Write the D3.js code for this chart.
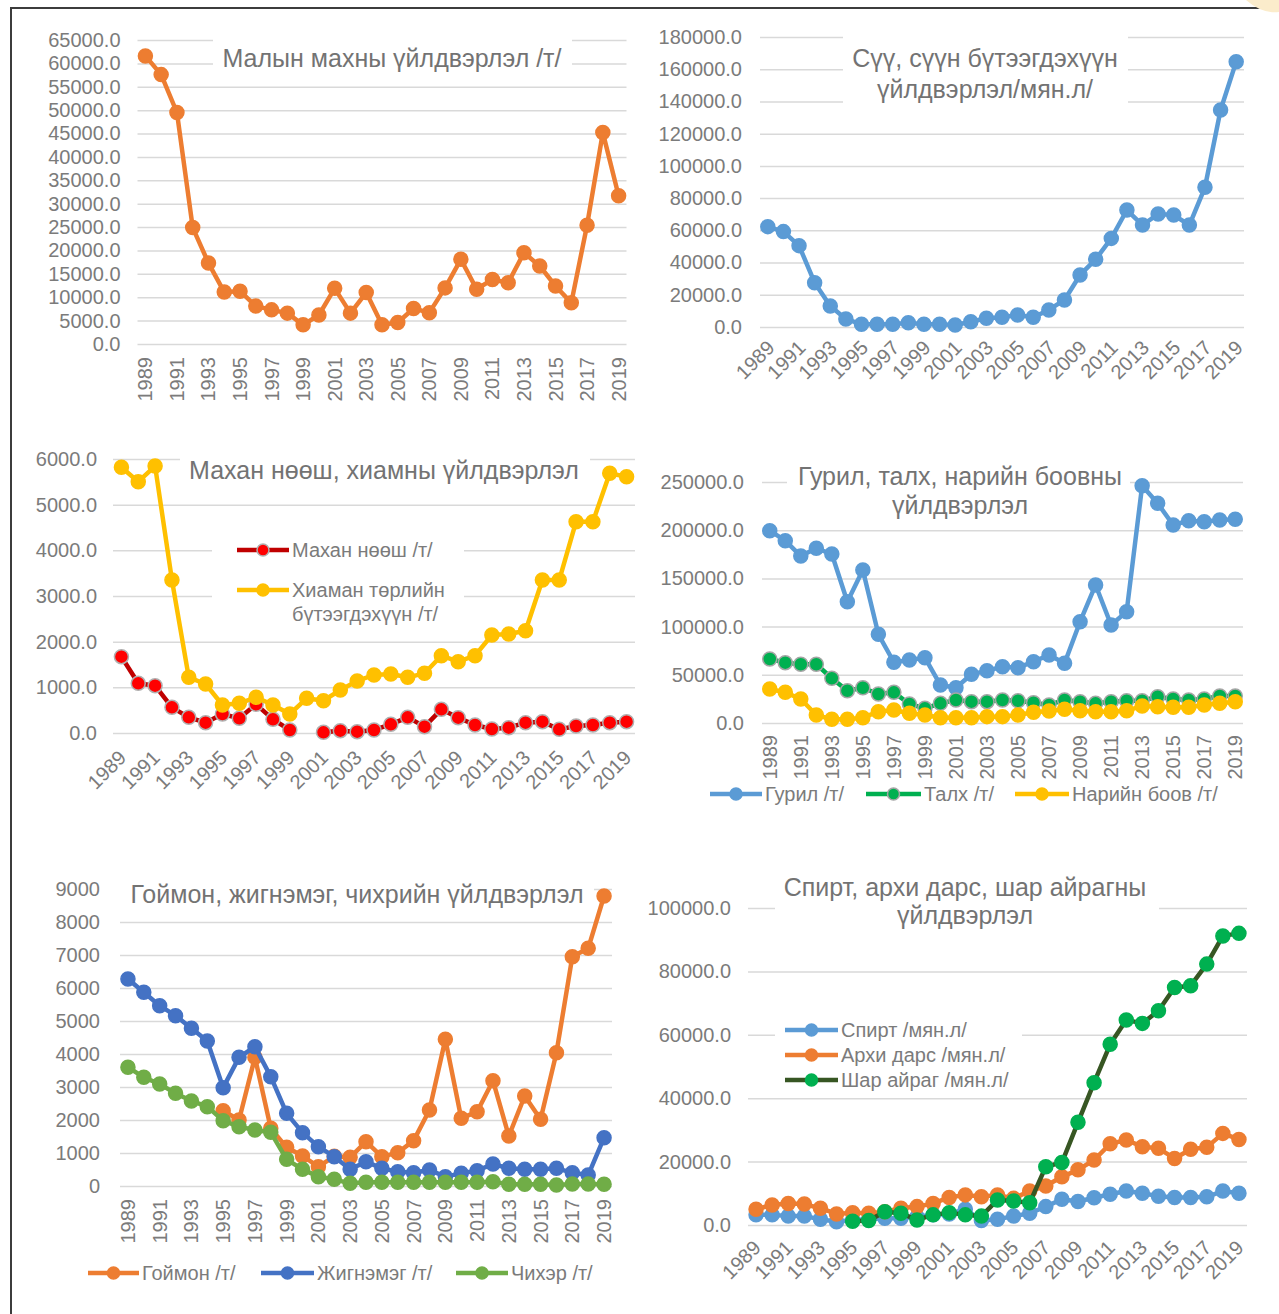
<!DOCTYPE html>
<html>
<head>
<meta charset="utf-8">
<script src="https://cdn.jsdelivr.net/npm/d3@7"></script>
<style>
body { margin: 0; background: #fff; }
</style>
</head>
<body>
<div id="chart"></div>
<script>
// Categories
const years = [1989, 1990, 1991, 1992, 1993, 1994, 1995, 1996, 1997, 1998, 1999, 2000, 2001, 2002, 2003, 2004,
    2005, 2006, 2007, 2008, 2009, 2010, 2011, 2012, 2013, 2014, 2015, 2016, 2017, 2018, 2019];
const labelYears = [1989, 1991, 1993, 1995, 1997, 1999, 2001, 2003, 2005, 2007, 2009, 2011, 2013, 2015, 2017, 2019];

// Малын мах
const meat = [61600, 57600, 49500, 24900, 17300, 11100, 11300, 8100, 7300, 6600, 4100, 6200, 11900, 6600, 11000, 4100,
    4600, 7600, 6700, 12000, 18100, 11700, 13800, 13100, 19500, 16700, 12400, 8800, 25400, 45200, 31700];
const meatTicks = [0, 5000, 10000, 15000, 20000, 25000, 30000, 35000, 40000, 45000, 50000, 55000, 60000, 65000];

// Сүү
const milk = [62300, 59200, 50500, 27500, 13000, 5000, 1700, 1700, 1700, 2700, 1700, 1700, 1200, 3300, 5400, 6000,
    7400, 6000, 10600, 16800, 32300, 42000, 55000, 72600, 63300, 70100, 69500, 63300, 86700, 134700, 164700];
const milkTicks = [0, 20000, 40000, 60000, 80000, 100000, 120000, 140000, 160000, 180000];

// Махан нөөш, хиам
const cannedMeat = [1671, 1088, 1036, 562, 343, 226, 416, 321, 628, 299, 66, null, 15, 51, 29, 66,
    190, 343, 139, 518, 336, 175, 88, 117, 226, 248, 80, 153, 175, 226, 248];
const sausage = [5818, 5503, 5846, 3350, 1219, 1073, 613, 650, 782, 613, 416, 760, 708, 942, 1139, 1270,
    1292, 1219, 1307, 1693, 1561, 1693, 2146, 2168, 2240, 3350, 3350, 4627, 4627, 5686, 5613];
const sausageTicks = [0, 1000, 2000, 3000, 4000, 5000, 6000];

// Гурил, талх, нарийн боов
const flour = [199500, 189100, 173200, 181200, 175300, 125800, 158700, 92000, 63000, 65400, 67700, 39400, 36600, 50500, 54300, 58400,
    57400, 63600, 70500, 61900, 105100, 143200, 101700, 115500, 246200, 227900, 205400, 209900, 208800, 210600, 211300];
const bread = [66400, 62600, 60900, 60900, 46400, 33500, 36600, 30100, 31800, 19700, 15200, 20400, 23900, 22100, 22100, 23900,
    23100, 21100, 18700, 23900, 22100, 20400, 22100, 23100, 23100, 27300, 24900, 23900, 24900, 28000, 28000];
const pastry = [35300, 31800, 24900, 8300, 3800, 3800, 5500, 11700, 13500, 10100, 8300, 5500, 5500, 5500, 6600, 6600,
    8300, 11100, 12400, 14200, 12800, 11700, 11700, 12800, 17600, 16900, 16300, 16300, 18700, 20400, 22100];
const flourTicks = [0, 50000, 100000, 150000, 200000, 250000];

// Гоймон, жигнэмэг, чихэр
const noodle = [null, null, null, null, null, null, 2282, 2000, 3900, 1747, 1172, 909, 586, 900, 869, 1343,
    889, 1010, 1374, 2303, 4444, 2051, 2253, 3192, 1515, 2727, 2020, 4040, 6949, 7202, 8788];
const biscuit = [6273, 5869, 5465, 5162, 4778, 4394, 2980, 3899, 4222, 3313, 2202, 1616, 1192, 889, 505, 737,
    535, 434, 404, 485, 283, 384, 465, 667, 535, 505, 505, 535, 404, 333, 1465];
const candy = [3600, 3293, 3091, 2808, 2576, 2404, 1980, 1798, 1697, 1626, 808, 505, 283, 202, 81, 111,
    111, 111, 111, 111, 111, 111, 111, 131, 51, 51, 51, 30, 60, 60, 51];
const noodleTicks = [0, 1000, 2000, 3000, 4000, 5000, 6000, 7000, 8000, 9000];

// Спирт, архи, шар айраг
const spirit = [3200, 3200, 2800, 2800, 1800, 1000, 1600, 1800, 2100, 2100, 2600, 3200, 3500, 5000, 1400, 1800,
    2800, 3700, 5800, 8100, 7400, 8600, 9700, 10700, 10000, 9100, 8700, 8700, 8900, 10700, 10000];
const liquor = [5000, 6300, 6800, 6600, 5300, 3500, 3900, 3700, 4200, 5300, 5800, 6800, 8700, 9500, 8900, 9500,
    8400, 10700, 12300, 15200, 17400, 20500, 25600, 26800, 24700, 24200, 21000, 23900, 24500, 28900, 27000];
const beer = [null, null, null, null, null, null, 1200, 1400, 4200, 3700, 1600, 3200, 3900, 3200, 2800, 7900,
    7600, 7000, 18400, 19700, 32400, 44900, 57000, 64700, 63600, 67600, 74900, 75500, 82300, 91200, 92000];
const spiritTicks = [0, 20000, 40000, 60000, 80000, 100000];

const FONT = "'Liberation Sans', Arial, sans-serif";
const GREY = "#7b7b7b";

const svg = d3.select("#chart").append("svg")
    .attr("width", 1279)
    .attr("height", 1314);

// page frame
svg.append("path")
    .attr("d", "M11,1314V8H1279")
    .attr("fill", "none")
    .attr("stroke", "#3c3c3c")
    .attr("stroke-width", 2);
svg.append("path")
    .attr("d", "M1246,0 Q1262,14 1279,12 V0 Z")
    .attr("fill", "#fbeccb");

function drawChart(o) {
    const g = svg.append("g");
    const x = d3.scaleBand().domain(years).range([o.left, o.right]);
    const cx = d => x(d) + x.bandwidth() / 2;
    const y = d3.scaleLinear().domain([0, o.max]).range([o.bottom, o.top]);

    // gridlines and value labels
    const yAxis = g.append("g")
        .attr("transform", `translate(${o.left},0)`)
        .call(d3.axisLeft(y).tickValues(o.ticks).tickSize(-(o.right - o.left)).tickPadding(o.pad).tickFormat(o.fmt));
    yAxis.select(".domain").remove();
    yAxis.selectAll("line").attr("stroke", "#d9d9d9").attr("stroke-width", 1.5);
    yAxis.selectAll("text")
        .attr("fill", GREY)
        .attr("font-size", 20)
        .attr("font-family", FONT);

    // year labels (offsets are relative to the axis line)
    const xAxis = g.append("g")
        .attr("transform", `translate(0,${o.bottom})`)
        .call(d3.axisBottom(x).tickValues(labelYears).tickSize(0).tickPadding(0));
    xAxis.select(".domain").remove();
    xAxis.selectAll("text")
        .attr("fill", GREY)
        .attr("font-size", 20)
        .attr("font-family", FONT)
        .attr("text-anchor", "end")
        .attr("y", 0)
        .attr("dy", "0.35em")
        .attr("transform", o.rot === -90
            ? `translate(0,${o.labOff}) rotate(-90)`
            : `translate(${o.labDx},${o.labOff}) rotate(-45)`);

    // title with its white box
    g.append("rect")
        .attr("x", o.title.box[0]).attr("y", o.title.box[1])
        .attr("width", o.title.box[2] - o.title.box[0]).attr("height", o.title.box[3] - o.title.box[1])
        .attr("fill", "#fff");
    o.title.lines.forEach((t, i) => {
        g.append("text")
            .attr("x", o.title.x).attr("y", o.title.y[i])
            .attr("dy", "0.35em")
            .attr("text-anchor", "middle")
            .attr("font-size", 25)
            .attr("font-family", FONT)
            .attr("fill", "#737373")
            .text(t);
    });

    // legend
    if (o.legend) {
        if (o.legend.box) {
            const b = o.legend.box;
            g.append("rect").attr("x", b[0]).attr("y", b[1]).attr("width", b[2] - b[0]).attr("height", b[3] - b[1]).attr("fill", "#fff");
        }
        o.legend.items.forEach((it, i) => {
            const s = o.series[i];
            g.append("line")
                .attr("x1", it.x1).attr("x2", it.x2).attr("y1", it.y).attr("y2", it.y)
                .attr("stroke", s.line).attr("stroke-width", 4.5);
            g.append("circle")
                .attr("cx", (it.x1 + it.x2) / 2).attr("cy", it.y).attr("r", 6)
                .attr("fill", s.fill).attr("stroke", s.stroke || s.fill).attr("stroke-width", 1.5);
            s.name.forEach((t, j) => {
                g.append("text")
                    .attr("x", it.x2 + 3).attr("y", it.y + j * 24)
                    .attr("dy", "0.35em")
                    .attr("font-size", 20)
                    .attr("font-family", FONT)
                    .attr("fill", GREY)
                    .text(t);
            });
        });
    }

    // series
    o.series.forEach(s => {
        const pts = years.map((yr, i) => ({ yr, v: s.values[i] }));
        g.append("path")
            .datum(pts)
            .attr("fill", "none")
            .attr("stroke", s.line)
            .attr("stroke-width", 4.5)
            .attr("stroke-linejoin", "round")
            .attr("d", d3.line().defined(d => d.v != null).x(d => cx(d.yr)).y(d => y(d.v)));
        g.append("g").selectAll("circle")
            .data(pts.filter(d => d.v != null))
            .join("circle")
            .attr("cx", d => cx(d.yr))
            .attr("cy", d => y(d.v))
            .attr("r", 7)
            .attr("fill", s.fill)
            .attr("stroke", s.stroke || s.fill)
            .attr("stroke-width", 1.5);
    });
}

const f1 = d3.format(".1f");
const f0 = d3.format("d");

drawChart({
    left: 137.5, right: 626.5, top: 40, bottom: 344, max: 65000, ticks: meatTicks, fmt: f1, pad: 17,
    rot: -90, labOff: 13,
    title: { lines: ["Малын махны үйлдвэрлэл /т/"], x: 392, y: [58], box: [213, 33, 572, 82] },
    series: [{ values: meat, line: "#ed7d31", fill: "#ed7d31" }]
});

drawChart({
    left: 760, right: 1244, top: 37, bottom: 327, max: 180000, ticks: milkTicks, fmt: f1, pad: 18,
    rot: -45, labOff: 17, labDx: 3,
    title: { lines: ["Сүү, сүүн бүтээгдэхүүн", "үйлдвэрлэл/мян.л/"], x: 985, y: [58, 89], box: [843, 30, 1128, 108] },
    series: [{ values: milk, line: "#5b9bd5", fill: "#5b9bd5" }]
});

drawChart({
    left: 113, right: 635, top: 459, bottom: 733, max: 6000, ticks: sausageTicks, fmt: f1, pad: 16,
    rot: -45, labOff: 21, labDx: 1,
    title: { lines: ["Махан нөөш, хиамны үйлдвэрлэл"], x: 384, y: [470], box: [180, 448, 590, 493] },
    legend: {
        box: [212, 532, 464, 630],
        items: [{ x1: 237, x2: 289, y: 550 }, { x1: 237, x2: 289, y: 590 }]
    },
    series: [
        { values: cannedMeat, line: "#c00000", fill: "#ff0000", stroke: "#b0b0b0", name: ["Махан нөөш /т/"] },
        { values: sausage, line: "#ffc000", fill: "#ffc000", name: ["Хиаман төрлийн", "бүтээгдэхүүн /т/"] }
    ]
});

drawChart({
    left: 762, right: 1243, top: 482, bottom: 723, max: 250000, ticks: flourTicks, fmt: f1, pad: 18,
    rot: -90, labOff: 12,
    title: { lines: ["Гурил, талх, нарийн боовны", "үйлдвэрлэл"], x: 960, y: [476, 505], box: [787, 458, 1130, 521] },
    legend: {
        items: [{ x1: 710, x2: 762, y: 794 }, { x1: 866, x2: 921, y: 794 }, { x1: 1015, x2: 1069, y: 794 }]
    },
    series: [
        { values: flour, line: "#5b9bd5", fill: "#5b9bd5", name: ["Гурил /т/"] },
        { values: bread, line: "#00b050", fill: "#00b050", stroke: "#a5a5a5", name: ["Талх /т/"] },
        { values: pastry, line: "#ffc000", fill: "#ffc000", name: ["Нарийн боов /т/"] }
    ]
});

drawChart({
    left: 120, right: 612, top: 889, bottom: 1186, max: 9000, ticks: noodleTicks, fmt: f0, pad: 20,
    rot: -90, labOff: 13,
    title: { lines: ["Гоймон, жигнэмэг, чихрийн үйлдвэрлэл"], x: 357, y: [894], box: [118, 875, 594, 913] },
    legend: {
        items: [{ x1: 88, x2: 139, y: 1273 }, { x1: 261, x2: 314, y: 1273 }, { x1: 456, x2: 508, y: 1273 }]
    },
    series: [
        { values: noodle, line: "#ed7d31", fill: "#ed7d31", name: ["Гоймон /т/"] },
        { values: biscuit, line: "#4472c4", fill: "#4472c4", name: ["Жигнэмэг /т/"] },
        { values: candy, line: "#70ad47", fill: "#70ad47", name: ["Чихэр /т/"] }
    ]
});

drawChart({
    left: 748, right: 1247, top: 908, bottom: 1225, max: 100000, ticks: spiritTicks, fmt: f1, pad: 17,
    rot: -45, labOff: 19, labDx: 1,
    title: { lines: ["Спирт, архи дарс, шар айрагны", "үйлдвэрлэл"], x: 965, y: [887, 915], box: [775, 866, 1159, 938] },
    legend: {
        box: [775, 1015, 1022, 1093],
        items: [{ x1: 785, x2: 838, y: 1030 }, { x1: 785, x2: 838, y: 1055 }, { x1: 785, x2: 838, y: 1080 }]
    },
    series: [
        { values: spirit, line: "#5b9bd5", fill: "#5b9bd5", name: ["Спирт /мян.л/"] },
        { values: liquor, line: "#ed7d31", fill: "#ed7d31", name: ["Архи дарс /мян.л/"] },
        { values: beer, line: "#375623", fill: "#00b050", name: ["Шар айраг /мян.л/"] }
    ]
});
</script>
</body>
</html>
